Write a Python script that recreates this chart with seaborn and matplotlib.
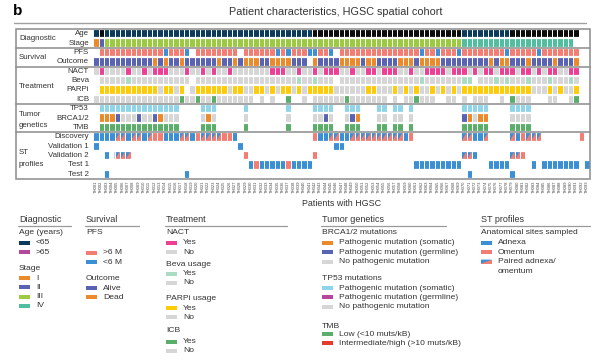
import matplotlib
matplotlib.use("Agg")
import matplotlib.pyplot as plt
from matplotlib.colors import ListedColormap
from matplotlib.patches import Rectangle, Polygon
import numpy as np
import pandas as pd
import seaborn as sns

sns.set_theme(style="white")
plt.rcParams["font.family"] = ["Liberation Sans", "DejaVu Sans"]

# colours
NAVY = "#0c3a5b"; BLACK = "#0b0b0b"; MAG = "#b5489a"
ORANGE = "#ec8a2a"; PURPLE = "#5a62b3"; LIME = "#9ccb3f"; TEAL = "#4fbf9f"
SALMON = "#f37d72"; BLUE = "#3b8fd5"; PINK = "#ee3f95"; GRAY = "#d6d6d6"
MINT = "#a9dcc2"; YELLOW = "#ffcb05"; GREEN = "#5aae69"; CYAN = "#8fd4e8"; RED = "#e53b2f"

# one character per patient ('.' = no data), 93 patients
age = "nknnnnnnnn nnnnnnnnnn nnnnnnnnnn nnnnnnnnnn nkkkkkkkkk kkkkkkkkkk kkkkkkkkkn nnnnnnnnkk kkkkkkkkkk k.."
stage = "1233333333 3333333333 3333333333 3333333333 3333333333 3333333333 3333333334 4444444444 4444444444 ..."
pfs = ".sssssssss sssbsssb.s sssssss.ss ssssbsbsss bbssb.ssss ssssssssss sbssbsssbs sssssssbss sssbssssss s.."
outcome = "aaaaaaaaaa adadaadaaa aaadaadadd daaddddaaa .daaaadddd addaaaaddd addddaaaaa aaaadaddaa adaaaadaaa d.."
nact = "gpggggpggp gpppgggpgg pgpggpgggg gggpppggpg gpgpppggpg gppgpppggp ggppppgppp gpgppgpppg ppgpgppggp p.."
beva = ".gggggmggg gggggggg.g gggggggggg ggggggggmg gmggg.gggg gggggggggg gmgggggggm m.gggmgmgg gmgggmgggm g.."
parpi = ".yyyyyyyyy yygyygy.gy yyyyygyygg yygygyygyg yyyyyggggg gyygggygyg yggygygygy yyyyyyyyyy yygggygygg y.."
icb = "gggggggggg ggggggegge ggeggggggg .g.g..e..g .ggggggegg ggggg.g.gg eggg..gg.g .ggg..g.eg gg...gg..g e.."
tp53 = ".ccccccccc cccccc.... ccc.....c. ......c... .cccc..ccc ...cc.cc.c .........c cccc....cc cc........ ..."
brca = ".ooovgggvg gvoggg.... gog.....g. ......g... .ggvg..gvo ...gg.gg.g .........v ogoo....gg gg........ ..."
tmb = ".eeeeeeeee eeeeee.... eee.....e. ......e... .eeee..eee ...ee.ee.e .........e eeee....ee ee........ ..."
discovery = "AAAAPPAPPA POOAAAPPAO PPPPOOA... .......... .OAAPPAAPP PPPPPPPPAO .........P PAAP....PA OPPP...... .O."
validation1 = "A......... .......... .......A.. .......... .....AA... .......... .......... .......... .......... ..."
validation2 = "..A.PPP... .......... ........O. .......... .O........ .......... .........P PA......PP O......... ..."
test1 = ".......... .......... .........A OAAAAAOAAA A......... .......... AAAAAAAAA. ....AAAA.. ..A.AAAAAA A.A"
test2 = "..A....... .......A.. .......... .......... .......... .......... .......... A.......A. .......... ..."

row_labels = ["Age", "Stage", "PFS", "Outcome", "NACT", "Beva", "PARPi", "ICB",
              "TP53", "BRCA1/2", "TMB", "Discovery", "Validation 1", "Validation 2",
              "Test 1", "Test 2"]
row_data = [age, stage, pfs, outcome, nact, beva, parpi, icb, tp53, brca, tmb,
            discovery, validation1, validation2, test1, test2]
patients = [f"TH{n:03d}" for n in range(1, 94)]

code_colors = {"n": NAVY, "k": BLACK, "1": ORANGE, "2": PURPLE, "3": LIME, "4": TEAL,
               "s": SALMON, "b": BLUE, "a": PURPLE, "d": ORANGE, "p": PINK, "g": GRAY,
               "m": MINT, "y": YELLOW, "e": GREEN, "c": CYAN, "q": MAG, "o": ORANGE,
               "v": PURPLE, "r": RED, "A": BLUE, "O": SALMON, "P": SALMON}
codes = list(code_colors)
palette = [code_colors[c] for c in codes]

rows = [r.replace(" ", "") for r in row_data]
mat = np.array([[codes.index(ch) if ch != "." else np.nan for ch in r] for r in rows])
df = pd.DataFrame(mat, index=row_labels, columns=patients)

W, H = 600, 362
HM_L, HM_R, HM_T, HM_B = 93.3, 589.5, 29, 179
n_rows, n_cols = df.shape
row_h = (HM_B - HM_T) / n_rows

fig = plt.figure(figsize=(6, 3.62), dpi=100)
ax = fig.add_axes([HM_L / W, 1 - HM_B / H, (HM_R - HM_L) / W, (HM_B - HM_T) / H])
sns.heatmap(df, cmap=ListedColormap(palette), vmin=-0.5, vmax=len(palette) - 0.5,
            cbar=False, ax=ax, linewidths=0, xticklabels=patients, yticklabels=False)

# paired adnexa/omentum cells: split diagonally
for i, r in enumerate(rows):
    for j, ch in enumerate(r):
        if ch == "P":
            ax.add_patch(Polygon([(j, i), (j + 1, i), (j, i + 1)], closed=True,
                                 facecolor=BLUE, edgecolor="none"))

ax.vlines(np.arange(0, n_cols + 1), 0, n_rows, colors="white", lw=0.7)
ax.hlines(np.arange(0, n_rows + 1), 0, n_cols, colors="white", lw=1.6)
ax.set_xlabel("")
ax.set_ylabel("")
ax.tick_params(axis="x", length=0, pad=1, labelsize=3.0, labelcolor="#444444", rotation=90)
for s in ax.spines.values():
    s.set_visible(False)

# overlay in pixel coordinates for frame, labels and legend
ov = fig.add_axes([0, 0, 1, 1], zorder=5)
ov.set_xlim(0, W)
ov.set_ylim(H, 0)
ov.axis("off")
ov.patch.set_alpha(0)

TXT = "#333333"
LINE = "#8c8c8c"

ov.text(13, 11, "b", fontsize=11, fontweight="bold", va="center", ha="left", color="black")
ov.text(336, 12, "Patient characteristics, HGSC spatial cohort", fontsize=7.8,
        ha="center", va="center", color=TXT)
ov.plot([14, 586], [22.5, 22.5], color="#a0a0a0", lw=1.0)

ov.add_patch(Rectangle((16, HM_T), HM_R + 0.5 - 16, HM_B - HM_T, fill=False, ec=LINE, lw=1.1))
for k in [2, 4, 8, 11]:
    yy = HM_T + k * row_h
    ov.plot([16, HM_R + 0.5], [yy, yy], color=LINE, lw=1.1)

for i, lab in enumerate(row_labels):
    ov.text(89, HM_T + (i + 0.5) * row_h, lab, fontsize=5.7, ha="right", va="center", color=TXT)

groups = [("Diagnostic", 38.4), ("Survival", 57.5), ("Treatment", 86),
          ("Tumor", 115), ("genetics", 125.5), ("ST", 152.5), ("profiles", 164.5)]
for lab, yy in groups:
    ov.text(19, yy, lab, fontsize=5.7, ha="left", va="center", color=TXT)

ov.text((HM_L + HM_R) / 2, 204, "Patients with HGSC", fontsize=6.4, ha="center",
        va="center", color=TXT)

# legend
legend_cols = [
    ("Diagnostic", 19, 71, [
        ("Age (years)", 232, 243, [("<65", NAVY), (">65", MAG)]),
        ("Stage", 269, 278, [("I", ORANGE), ("II", PURPLE), ("III", LIME), ("IV", TEAL)]),
    ]),
    ("Survival", 86, 139, [
        ("PFS", 232, 252.7, [(">6 M", SALMON), ("<6 M", BLUE)]),
        ("Outcome", 279, 288, [("Alive", PURPLE), ("Dead", ORANGE)]),
    ]),
    ("Treatment", 166, 287, [
        ("NACT", 232, 243, [("Yes", PINK), ("No", GRAY)]),
        ("Beva usage", 265, 273.5, [("Yes", MINT), ("No", GRAY)]),
        ("PARPi usage", 298, 308, [("Yes", YELLOW), ("No", GRAY)]),
        ("ICB", 331, 341.5, [("Yes", GREEN), ("No", GRAY)]),
    ]),
    ("Tumor genetics", 322, 446, [
        ("BRCA1/2 mutations", 232, 243, [("Pathogenic mutation (somatic)", ORANGE),
                                         ("Pathogenic mutation (germline)", PURPLE),
                                         ("No pathogenic mutation", GRAY)]),
        ("TP53 mutations", 278, 288, [("Pathogenic mutation (somatic)", CYAN),
                                      ("Pathogenic mutation (germline)", MAG),
                                      ("No pathogenic mutation", GRAY)]),
        ("TMB", 326, 334, [("Low (<10 muts/kB)", GREEN),
                           ("Intermediate/high (>10 muts/kB)", RED)]),
    ]),
    ("ST profiles", 481, 590, [
        ("Anatomical sites sampled", 232, 243, [("Adnexa", BLUE), ("Omentum", SALMON),
                                                ("Paired adnexa/\nomentum", "paired")]),
    ]),
]

SW_W, SW_H, STEP = 11, 4, 9.3
for title, x0, x1, blocks in legend_cols:
    ov.text(x0, 220, title, fontsize=6.5, ha="left", va="center", color=TXT)
    ov.plot([x0 - 1, x1], [226, 226], color="#9a9a9a", lw=0.9)
    for head, hy, ey, entries in blocks:
        ov.text(x0, hy, head, fontsize=6.1, ha="left", va="center", color=TXT)
        for k, (lab, col) in enumerate(entries):
            yy = ey + k * STEP
            if col == "paired":
                ov.add_patch(Polygon([(x0, yy - SW_H / 2), (x0 + SW_W, yy - SW_H / 2),
                                      (x0 + SW_W, yy + SW_H / 2), (x0, yy + SW_H / 2)],
                                     closed=True, fc=SALMON, ec="none"))
                ov.add_patch(Polygon([(x0, yy - SW_H / 2), (x0 + SW_W, yy - SW_H / 2),
                                      (x0, yy + SW_H / 2)], closed=True, fc=BLUE, ec="none"))
            else:
                ov.add_patch(Rectangle((x0, yy - SW_H / 2), SW_W, SW_H, fc=col, ec="none"))
            for m, line in enumerate(lab.split("\n")):
                ov.text(x0 + SW_W + 6, yy + m * 10, line, fontsize=6.1, ha="left",
                        va="center", color=TXT)

fig.savefig("out.png", dpi=100)
